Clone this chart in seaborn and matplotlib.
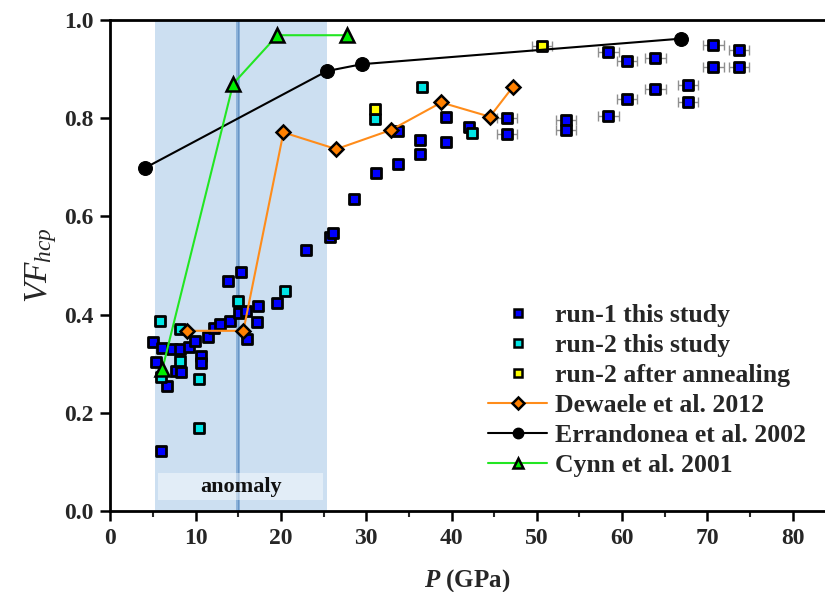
import numpy as np
import matplotlib
matplotlib.use("Agg")
import matplotlib.pyplot as plt
import seaborn as sns
from matplotlib.lines import Line2D
from matplotlib.patches import Rectangle

# run-1 of this study
run1_p = [5.0, 5.4, 5.9, 6.1, 6.6, 7.2, 7.7, 8.2, 8.3, 9.2, 9.9, 10.6, 10.6, 11.4,
          12.2, 12.9, 13.8, 14.0, 15.1, 15.3, 15.9, 16.0, 17.2, 17.3, 19.6,
          23.0, 25.8, 26.1, 28.6, 31.2, 33.7, 33.7, 36.3, 36.3, 39.3, 39.3, 42.1,
          46.5, 46.5, 53.4, 53.4, 58.4, 58.4, 60.6, 60.6, 63.9, 63.9, 67.7, 67.7,
          70.7, 70.7, 73.7, 73.7]
run1_vf = [0.345, 0.304, 0.123, 0.331, 0.255, 0.329, 0.285, 0.330, 0.284, 0.333, 0.347, 0.316, 0.301, 0.354,
           0.372, 0.380, 0.469, 0.386, 0.403, 0.487, 0.407, 0.350, 0.384, 0.418, 0.424,
           0.532, 0.559, 0.567, 0.635, 0.688, 0.706, 0.773, 0.727, 0.756, 0.751, 0.803, 0.783,
           0.801, 0.767, 0.796, 0.776, 0.804, 0.935, 0.916, 0.839, 0.922, 0.859, 0.867, 0.834,
           0.949, 0.904, 0.939, 0.904]

# run-2 of this study
run2_p = [5.8, 6.0, 8.2, 8.2, 10.4, 10.4, 15.0, 20.5, 31.0, 36.5, 42.4]
run2_vf = [0.386, 0.272, 0.371, 0.305, 0.269, 0.170, 0.428, 0.448, 0.798, 0.863, 0.769]

# run-2 after annealing
ann_p = [31.0, 50.6]
ann_vf = [0.818, 0.948]

# literature data
dew_p = [9.0, 15.6, 20.3, 26.5, 32.9, 38.8, 44.5, 47.2]
dew_vf = [0.367, 0.367, 0.771, 0.737, 0.776, 0.832, 0.803, 0.864]
err_p = [4.1, 25.4, 29.5, 66.9]
err_vf = [0.699, 0.896, 0.910, 0.962]
cyn_p = [6.1, 14.4, 19.6, 27.8]
cyn_vf = [0.289, 0.870, 0.969, 0.969]

p_err = 1.2  # pressure uncertainty at high pressure (GPa)

labels = ["run-1 this study", "run-2 this study", "run-2 after annealing",
          "Dewaele et al. 2012", "Errandonea et al. 2002", "Cynn et al. 2001"]

sns.set_style("ticks")
plt.rcParams["font.family"] = ["Liberation Serif", "DejaVu Serif"]
plt.rcParams["font.weight"] = "bold"
plt.rcParams["mathtext.fontset"] = "custom"
plt.rcParams["mathtext.rm"] = "Liberation Serif:normal"
plt.rcParams["mathtext.it"] = "Liberation Serif:italic:normal"
plt.rcParams["mathtext.bf"] = "Liberation Serif:bold:italic"

W, H = 825, 592
fig = plt.figure(figsize=(W / 100, H / 100), dpi=100)
x0, y0, y1 = 110.3, 511.0, 20.0
ax = fig.add_axes([x0 / W, (H - y0) / H, (W - x0) / W, (y0 - y1) / H])
xmax = (W - x0) / 8.53

# anomaly band
ax.axvspan(5.24, 25.4, color="#CCDFF1", zorder=0, lw=0)
ax.axvspan(14.75, 15.2, color="#8DB3DA", zorder=0.5, lw=0)
ax.axvline(14.97, color="#6A96C6", lw=0.8, zorder=0.6)
ax.add_patch(Rectangle((5.6, 0.022), 19.3, 0.056, facecolor="white", alpha=0.45,
                       edgecolor="none", zorder=0.8))
ax.text(15.3, 0.048, "anomaly", ha="center", va="center", fontsize=16,
        fontweight="bold", color="#111111", zorder=0.9)

# horizontal error bars on high-pressure points
r1p = np.array(run1_p); r1v = np.array(run1_vf)
m = r1p > 45
ax.errorbar(r1p[m], r1v[m], xerr=p_err, fmt="none", ecolor="#8f8f8f",
            elinewidth=1, capsize=3.5, capthick=1, zorder=2)
ax.errorbar([ann_p[1]], [ann_vf[1]], xerr=p_err, fmt="none", ecolor="#8f8f8f",
            elinewidth=1, capsize=3.5, capthick=1, zorder=2)

sq = dict(marker="s", s=48, edgecolor="black", linewidth=2, zorder=3, legend=False)
sns.scatterplot(x=run1_p, y=run1_vf, color="#0000FF", ax=ax, **sq)
sns.scatterplot(x=run2_p, y=run2_vf, color="#00E5E5", ax=ax, **sq)
sns.scatterplot(x=ann_p, y=ann_vf, color="#FFFF00", ax=ax, **sq)

sns.lineplot(x=dew_p, y=dew_vf, sort=False, color="#FF8C1A", lw=1.5, marker="D",
             markersize=7.5, markerfacecolor="#FF8000", markeredgecolor="black",
             markeredgewidth=1.8, ax=ax, zorder=5, legend=False)
sns.lineplot(x=err_p, y=err_vf, sort=False, color="black", lw=1.5, marker="o",
             markersize=10, markerfacecolor="black", markeredgecolor="black",
             ax=ax, zorder=5, legend=False)
sns.lineplot(x=cyn_p, y=cyn_vf, sort=False, color="#22E622", lw=1.5, marker="^",
             markersize=10, markerfacecolor="#00EE00", markeredgecolor="black",
             markeredgewidth=1.8, ax=ax, zorder=5, legend=False)

ax.set_xlim(0, xmax)
ax.set_ylim(0, 1.0)
ax.set_xticks(np.arange(0, 81, 10))
ax.set_xticks(np.arange(5, 81, 10), minor=True)
ax.set_yticks(np.arange(0, 1.01, 0.2))
ax.set_yticklabels([f"{v:.1f}" for v in np.arange(0, 1.01, 0.2)])
ax.tick_params(axis="both", which="major", direction="out", length=7, width=1.8,
               labelsize=17, pad=5, color="black")
ax.tick_params(axis="x", which="minor", direction="out", length=4, width=1.5)
for lab in ax.get_xticklabels() + ax.get_yticklabels():
    lab.set_fontweight("bold")
for side in ["left", "bottom", "top"]:
    ax.spines[side].set_linewidth(2)
    ax.spines[side].set_color("black")
ax.spines["right"].set_visible(False)

ax.set_xlabel(r"$\mathbf{P}$ (GPa)", fontsize=18, fontweight="bold", labelpad=13)
ax.set_ylabel(r"$VF_{hcp}$", fontsize=24, fontweight="normal", labelpad=4)

handles = [
    Line2D([], [], ls="none", marker="s", markersize=6, markerfacecolor="#0000FF",
           markeredgecolor="black", markeredgewidth=1.8),
    Line2D([], [], ls="none", marker="s", markersize=6, markerfacecolor="#00E5E5",
           markeredgecolor="black", markeredgewidth=1.8),
    Line2D([], [], ls="none", marker="s", markersize=6, markerfacecolor="#FFFF00",
           markeredgecolor="black", markeredgewidth=1.8),
    Line2D([], [], color="#FF8C1A", lw=1.5, marker="D", markersize=6.5,
           markerfacecolor="#FF8000", markeredgecolor="black", markeredgewidth=1.8),
    Line2D([], [], color="black", lw=1.5, marker="o", markersize=7.5,
           markerfacecolor="black"),
    Line2D([], [], color="#22E622", lw=1.5, marker="^", markersize=7.5,
           markerfacecolor="#00EE00", markeredgecolor="black", markeredgewidth=1.8),
]
leg = ax.legend(handles, labels, loc="upper left", bbox_to_anchor=(0.5285, 0.421),
                frameon=False, fontsize=18.5, handlelength=2.3, handletextpad=0.3,
                labelspacing=0.27, borderpad=0, borderaxespad=0)
for t in leg.get_texts():
    t.set_fontweight("bold")

fig.savefig("out.png", dpi=100)
